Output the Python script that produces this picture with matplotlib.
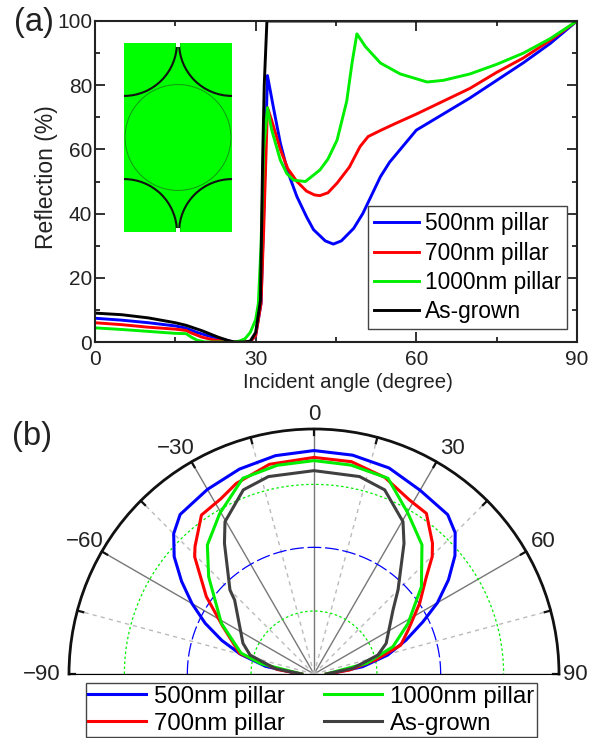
import numpy as np
import matplotlib
matplotlib.use('Agg')
from matplotlib import pyplot as plt
from matplotlib.patches import Rectangle, Circle, Arc

plt.rcParams['font.family'] = ['Liberation Sans', 'DejaVu Sans']

W, H = 597, 738

# (a) reflection vs incident angle
x_500 = [0, 5, 10, 15, 17, 19, 21, 24, 26, 28, 29, 30, 31, 31.5, 32.2, 33.4, 34.6, 36, 37.7, 39.5, 40.8, 43, 44.5, 46, 48.3, 50, 53.3, 55, 60, 65, 70, 75, 80, 85, 90]
y_500 = [7.4, 6.8, 6, 5, 4.3, 3, 2, 0.7, 0, 0, 0.1, 2, 12, 40, 83, 72.3, 62, 53, 45.3, 39, 35, 31.5, 30.5, 31.5, 35.4, 40, 51.5, 56, 66, 71, 76, 81.5, 87, 93, 100]
x_700 = [0, 5, 10, 15, 17, 18, 20, 22, 25, 28, 29, 30, 31, 31.5, 32.2, 33, 34.6, 36, 37.7, 39.5, 41, 42, 43.5, 45.2, 47.5, 49.5, 51, 53.3, 56, 60, 65, 70, 75, 80, 85, 90]
y_700 = [6, 5.4, 4.6, 4, 3.6, 2.8, 1.5, 0.7, 0, 0, 0.2, 2, 12, 35, 73, 69, 60, 54, 50, 47, 45.8, 45.6, 46.5, 49.5, 54.5, 60.9, 64, 65.9, 68, 71, 75, 79, 84, 88.5, 94, 100]
x_1000 = [0, 5, 10, 15, 17, 18, 19, 20.5, 26, 27, 28, 29, 30, 30.5, 31, 31.5, 32.2, 33, 34.6, 35.8, 37.1, 39.3, 42, 43.5, 45.2, 47, 48, 48.9, 50.5, 53.3, 57, 62, 65, 70, 75, 80, 85, 90]
y_1000 = [4.4, 3.9, 3.3, 2.7, 2.6, 1.5, 0.6, 0, 0, 0.3, 1, 3, 7, 12, 30, 60, 73, 66, 56.7, 52.5, 50.4, 50, 53.6, 57, 62.9, 75, 87, 96, 92, 86.9, 83.5, 81, 81.5, 83.5, 86.5, 90, 94.5, 100]
x_grown = [0, 5, 10, 15, 17, 20, 23, 25, 26, 28, 29, 30, 30.9, 31.3, 31.6, 32.1, 90]
y_grown = [9, 8.5, 7.5, 6, 5.2, 3.5, 1.5, 0.4, 0, 0, 0.3, 3, 13, 56.7, 80, 100, 100]

# (b) radial distribution
a_500 = [-90, -81, -75, -70, -65, -60, -55, -50, -45, -40, -30, -20, -10, 0, 10, 20, 30, 40, 45, 50, 55, 60, 64.4, 69.8, 75.6, 81.5, 90]
r_500 = [0.06, 0.2, 0.31, 0.4, 0.49, 0.575, 0.66, 0.745, 0.81, 0.85, 0.87, 0.89, 0.905, 0.912, 0.907, 0.895, 0.866, 0.849, 0.815, 0.751, 0.67, 0.582, 0.493, 0.40, 0.31, 0.2, 0.06]
a_700 = [-90, -83, -74.5, -62.5, -54.3, -45.5, -43, -35.3, -28, -22.2, -12, 0, 10, 19.8, 28.8, 35, 42.2, 45.2, 49.1, 56.2, 65, 71.6, 77, 83.6, 90]
r_700 = [0.05, 0.15, 0.315, 0.419, 0.541, 0.683, 0.712, 0.795, 0.81, 0.84, 0.875, 0.884, 0.88, 0.853, 0.81, 0.80, 0.72, 0.68, 0.607, 0.519, 0.424, 0.373, 0.26, 0.146, 0.05]
a_1000 = [-90, -79, -74, -61.3, -47.3, -39.6, -30.4, -20, -10, 0, 10, 20.7, 30.3, 39.9, 50.9, 61.7, 70.9, 78.5, 90]
r_1000 = [0.05, 0.22, 0.31, 0.431, 0.585, 0.683, 0.76, 0.85, 0.865, 0.871, 0.866, 0.854, 0.76, 0.687, 0.565, 0.436, 0.341, 0.218, 0.05]
a_grown = [-90, -82, -73.5, -66.6, -47, -45, -34.4, -30.3, -21, -13, 0, 13, 21, 30.3, 34.6, 45, 51, 67, 73.5, 81.7, 90]
r_grown = [0.05, 0.16, 0.272, 0.316, 0.443, 0.485, 0.647, 0.72, 0.805, 0.827, 0.83, 0.827, 0.805, 0.72, 0.647, 0.485, 0.415, 0.32, 0.272, 0.16, 0.05]

names = ['500nm pillar', '700nm pillar', '1000nm pillar', 'As-grown']
blue, red, green, black = '#0000ff', '#ff0000', '#00ee00', '#000000'
dark = '#404040'
ink = '#222222'

fig = plt.figure(figsize=(W / 100, H / 100), dpi=100)


def box(left, top, right, bottom):
    return [left / W, 1 - bottom / H, (right - left) / W, (bottom - top) / H]


# panel a
ax = fig.add_axes(box(95, 21, 577, 342))
ax.plot(x_500, y_500, color=blue, lw=2.1, label=names[0])
ax.plot(x_700, y_700, color=red, lw=2.1, label=names[1])
ax.plot(x_1000, y_1000, color=green, lw=2.1, label=names[2])
ax.plot(x_grown, y_grown, color=black, lw=2.1, label=names[3])
ax.set_xlim(0, 90)
ax.set_ylim(0, 100)
ax.set_xticks([0, 30, 60, 90])
ax.set_xticks([15, 45, 75], minor=True)
ax.set_yticks([0, 20, 40, 60, 80, 100])
ax.set_yticks([10, 30, 50, 70, 90], minor=True)
ax.tick_params(which='both', direction='in', top=True, right=True, width=1.3, color=ink, labelcolor=ink)
ax.tick_params(which='major', length=7, labelsize=15)
ax.tick_params(axis='y', which='major', pad=2)
ax.tick_params(axis='x', which='major', pad=6)
ax.tick_params(which='minor', length=3.5)
for s in ax.spines.values():
    s.set_linewidth(1.5)
    s.set_color(ink)
ax.set_xlabel('Incident angle (degree)', fontsize=14.7, labelpad=3, x=(348 - 95) / 482, color=ink)
ax.set_ylabel('Reflection (%)', fontsize=16.5, labelpad=-1, y=(342 - 177) / 321, color=ink)
ax.legend(loc='lower left', bbox_to_anchor=(368 / W, 1 - 329 / H, 199 / W, 115 / H),
          bbox_transform=fig.transFigure, mode='expand', fontsize=16.4, fancybox=False,
          framealpha=1, edgecolor='#444444', borderaxespad=0, handlelength=2.0,
          labelspacing=0.28, borderpad=0.25, handletextpad=0.26)

# inset, hexagonal pillar cell
ins = fig.add_axes(box(124, 43, 232, 232))
ins.set_xlim(0, 1)
ins.set_ylim(0, 1.75)
ins.axis('off')
ins.add_patch(Rectangle((0, 0), 1, 1.75, color='#00ff00', lw=0))
ins.add_patch(Circle((0.5, 0.875), 0.49, fill=False, ec='#119911', lw=0.7))
for cx, cy, t1, t2 in [(0, 0, 0, 90), (1, 0, 90, 180), (0, 1.75, 270, 360), (1, 1.75, 180, 270)]:
    ins.add_patch(Arc((cx, cy), 0.98, 0.98, theta1=t1, theta2=t2, color='#111111', lw=1.5))
ins.add_patch(Rectangle((0.485, 0), 0.03, 0.035, color='white', lw=0, zorder=5))
ins.add_patch(Rectangle((0.485, 1.715), 0.03, 0.035, color='white', lw=0, zorder=5))

# panel b, half disc sits in the middle of a square box
pol = fig.add_axes(box(69, 306.5, 559, 796.5), projection='polar')
pol.set_theta_zero_location('N')
pol.set_theta_direction(-1)
pol.set_thetamin(-90)
pol.set_thetamax(90)
pol.set_rlim(0, 1)
pol.grid(False)
pol.set_xticks([])
pol.set_yticks([])
pol.spines['polar'].set_linewidth(2)
pol.spines['polar'].set_color('#111111')
pol.spines['start'].set_visible(False)
pol.spines['end'].set_visible(False)
pol.spines['inner'].set_visible(False)

for t in [-90, -60, -30, 0, 30, 60, 90]:
    pol.plot(np.radians([t, t]), [0, 1], color='#777777', lw=1)
for t in [-75, -45, -15, 15, 45, 75]:
    pol.plot(np.radians([t, t]), [0, 1], color='#bbbbbb', lw=1, ls=(0, (3, 3)))
for t in range(-90, 91, 15):
    pol.plot(np.radians([t, t]), [0.975, 1], color='#111111', lw=1.6, clip_on=False)

circle_t = np.radians(np.linspace(-90, 90, 181))
pol.plot(circle_t, np.full(181, 0.517), color=blue, lw=0.9, ls=(0, (11, 3)))
pol.plot(circle_t, np.full(181, 0.774), color=green, lw=0.9, ls=(0, (2, 2)))
pol.plot(circle_t, np.full(181, 0.257), color=green, lw=0.9, ls=(0, (2, 2)))

l1, = pol.plot(np.radians(a_500), r_500, color=blue, lw=2.2)
l2, = pol.plot(np.radians(a_700), r_700, color=red, lw=2.2)
l3, = pol.plot(np.radians(a_1000), r_1000, color=green, lw=2.2)
l4, = pol.plot(np.radians(a_grown), r_grown, color=dark, lw=2.2)

for t, lab, rr in [(-90, '\u221290', 1.11), (-60, '\u221260', 1.08), (-31.5, '\u221230', 1.08), (0, '0', 1.06),
                   (31.5, '30', 1.08), (60, '60', 1.08), (90, '90', 1.065)]:
    pol.text(np.radians(t), rr, lab, fontsize=16, ha='center', va='center', clip_on=False, color=ink)

fig.legend([l1, l2, l3, l4], names, loc='lower left', ncol=2,
           bbox_to_anchor=(86 / W, 1 - 737 / H, 451 / W, 55 / H), mode='expand',
           fontsize=17.3, fancybox=False, framealpha=1, edgecolor='#444444', borderaxespad=0,
           handlelength=2.4, labelspacing=0.2, borderpad=0.1, handletextpad=0.35, columnspacing=1.5)

fig.text(14 / W, 1 - 22 / H, '(a)', fontsize=23.5, va='center', color=ink)
fig.text(12 / W, 1 - 437 / H, '(b)', fontsize=23.5, va='center', color=ink)

fig.savefig('out.png', dpi=100)
